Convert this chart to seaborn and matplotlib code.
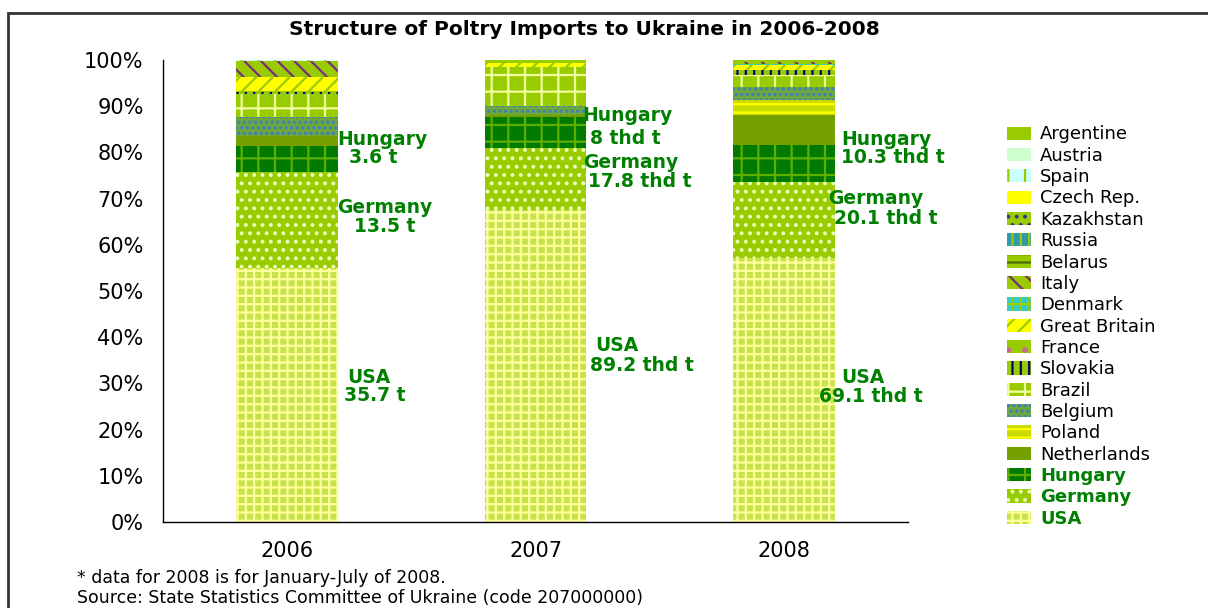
import pandas as pd
import matplotlib
matplotlib.use('Agg')
import matplotlib.pyplot as plt
from matplotlib.patches import Patch, Rectangle
from matplotlib.ticker import FuncFormatter
import seaborn as sns

years = ['2006', '2007', '2008']

# stacking order, bottom to top
countries = ['USA', 'Germany', 'Hungary', 'Netherlands', 'Poland', 'Belgium', 'Brazil',
             'Slovakia', 'France', 'Great Britain', 'Denmark', 'Italy', 'Belarus',
             'Russia', 'Kazakhstan', 'Czech Rep.', 'Spain', 'Austria', 'Argentine']

# share of total poultry imports, %
usa = [55.0, 67.5, 57.1]
germany = [20.8, 13.5, 16.5]
hungary = [5.6, 6.6, 8.0]
netherlands = [2.1, 0.6, 6.5]
poland = [0.0, 0.0, 3.2]
belgium = [4.2, 1.8, 2.9]
brazil = [5.0, 8.5, 2.6]
slovakia = [0.3, 0.0, 1.0]
france = [0.3, 0.0, 0.0]
great_britain = [3.0, 0.8, 1.1]
denmark = [0.0, 0.0, 0.3]
italy = [3.4, 0.0, 0.4]
belarus = [0.0, 0.0, 0.0]
russia = [0.0, 0.0, 0.0]
kazakhstan = [0.0, 0.0, 0.0]
czech = [0.0, 0.0, 0.0]
spain = [0.3, 0.0, 0.0]
austria = [0.0, 0.0, 0.0]
argentine = [0.0, 0.7, 0.4]

shares = [usa, germany, hungary, netherlands, poland, belgium, brazil, slovakia, france,
          great_britain, denmark, italy, belarus, russia, kazakhstan, czech, spain,
          austria, argentine]

# volumes written next to the bars
usa_volume = ['35.7 t', '89.2 thd t', '69.1 thd t']
germany_volume = ['13.5 t', '17.8 thd t', '20.1 thd t']
hungary_volume = ['3.6 t', '8 thd t', '10.3 thd t']

# Excel-like pattern fills: (face, hatch, hatch colour)
fills = {
    'USA': ('#C8E24D', '++', '#FFFF99'),
    'Germany': ('#99CC00', '..', '#E8FFB8'),
    'Hungary': ('#007A00', '+', '#5FAE00'),
    'Netherlands': ('#76A000', '', '#76A000'),
    'Poland': ('#C8DC00', '--', '#FFFF00'),
    'Belgium': ('#6FA83A', '...', '#3D7DC0'),
    'Brazil': ('#99CC00', '+', '#F2FF9E'),
    'Slovakia': ('#99CC00', '||', '#000080'),
    'France': ('#99CC00', '.', '#CC6699'),
    'Great Britain': ('#FFFF00', '//', '#99CC00'),
    'Denmark': ('#33CCCC', '++', '#99CC00'),
    'Italy': ('#99CC00', '\\\\', '#7B2D7B'),
    'Belarus': ('#99CC00', '--', '#4F6B00'),
    'Russia': ('#3399AA', '||', '#99CC00'),
    'Kazakhstan': ('#99CC00', '..', '#333399'),
    'Czech Rep.': ('#FFFF00', '', '#FFFF00'),
    'Spain': ('#CCFFFF', '|', '#99CC00'),
    'Austria': ('#CCFFCC', '', '#99CC00'),
    'Argentine': ('#99CC00', '', '#99CC00'),
}

rows = []
for c, vals in zip(countries, shares):
    for y, v in zip(years, vals):
        rows.append({'year': y, 'country': c, 'share': v})
df = pd.DataFrame(rows)
df['top'] = df.groupby('year')['share'].cumsum()

sns.set_style('white')
plt.rcParams['font.family'] = ['DejaVu Sans']
plt.rcParams['hatch.linewidth'] = 1.6
plt.rcParams['text.color'] = 'black'
plt.rcParams['xtick.color'] = 'black'
plt.rcParams['ytick.color'] = 'black'

fig = plt.figure(figsize=(12.08, 6.08), dpi=100)
ax = fig.add_axes([0.135, 0.1414, 0.6167, 0.7599])

# draw cumulative bars from the top down so lower segments overlap upper ones
for c in reversed(countries):
    face, hatch, hcol = fills[c]
    sub = df[df['country'] == c]
    sns.barplot(data=sub, x='year', y='top', order=years, color=face, hatch=hatch,
                edgecolor=hcol, linewidth=0, width=0.41, errorbar=None,
                saturation=1, ax=ax)

ax.set_xlim(-0.5, 2.5)
ax.set_ylim(0, 100)
ax.set_yticks(range(0, 101, 10))
ax.yaxis.set_major_formatter(FuncFormatter(lambda v, p: f'{int(v)}%'))
ax.set_xlabel('')
ax.set_ylabel('')
ax.set_xticks([-0.5, 0.5, 1.5, 2.5], minor=True)
ax.tick_params(axis='x', which='major', length=0, pad=14, labelsize=15)
ax.tick_params(axis='x', which='minor', length=6, width=1, color='black', direction='out')
ax.tick_params(axis='y', length=8, width=1, color='black', direction='out', pad=6,
               labelsize=15)
sns.despine(ax=ax, top=True, right=True)
for s in ['left', 'bottom']:
    ax.spines[s].set_color('black')
    ax.spines[s].set_linewidth(1)

# green labels beside the bars
green = '#008000'
lab_kw = dict(color=green, fontweight='bold', fontsize=13.5, va='center', ha='left')
label_rows = [
    ('Hungary', [0.20, 0.19, 0.23], [82.9, 87.9, 82.9]),
    (hungary_volume, [0.25, 0.22, 0.23], [78.8, 83.1, 78.8]),
    ('Germany', [0.20, 0.19, 0.18], [68.0, 77.9, 70.1]),
    (germany_volume, [0.27, 0.21, 0.20], [63.9, 73.6, 65.8]),
    ('USA', [0.24, 0.24, 0.23], [31.2, 38.1, 31.2]),
    (usa_volume, [0.23, 0.22, 0.14], [27.3, 33.8, 27.1]),
]
for txt, dxs, ys in label_rows:
    for i in range(3):
        s = txt if isinstance(txt, str) else txt[i]
        ax.text(i + dxs[i], ys[i], s, **lab_kw)

fig.text(0.484, 0.951, 'Structure of Poltry Imports to Ukraine in 2006-2008',
         ha='center', va='center', fontsize=14.5, fontweight='bold')
fig.text(0.064, 0.049, '* data for 2008 is for January-July of 2008.',
         ha='left', va='center', fontsize=12.5)
fig.text(0.064, 0.016, 'Source: State Statistics Committee of Ukraine (code 207000000)',
         ha='left', va='center', fontsize=12.5)

# legend, top entry = top of the stack
handles = []
for c in reversed(countries):
    face, hatch, hcol = fills[c]
    handles.append(Patch(facecolor=face, hatch=hatch, edgecolor=hcol, linewidth=0, label=c))
leg = fig.legend(handles=handles, loc='upper left', bbox_to_anchor=(0.828, 0.8055),
                 frameon=False, fontsize=13, handlelength=1.3, handleheight=0.75,
                 handletextpad=0.5, labelspacing=0.185, borderaxespad=0)
for t in leg.get_texts():
    if t.get_text() in ('Hungary', 'Germany', 'USA'):
        t.set_color(green)
        t.set_fontweight('bold')

# outer chart frame
fig.patches.append(Rectangle((0.0066, -0.1), 1.2, 1.0786, transform=fig.transFigure,
                             fill=False, edgecolor='#333333', linewidth=2))

fig.savefig('out.png', dpi=100)
